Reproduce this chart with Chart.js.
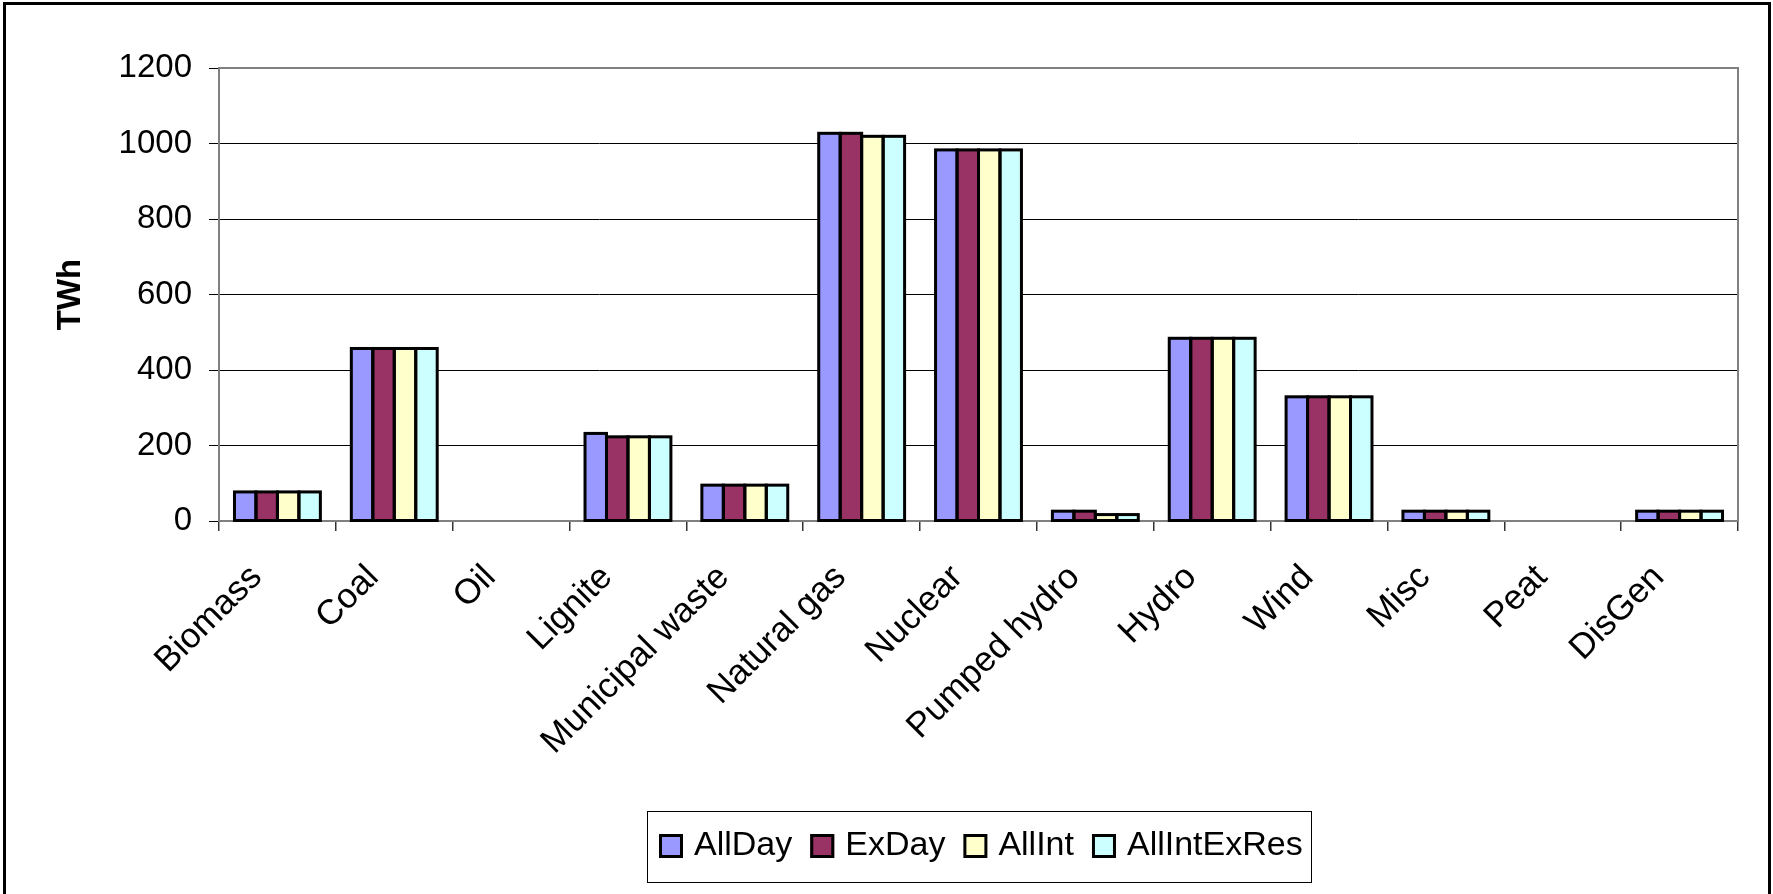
<!DOCTYPE html>
<html>
<head>
<meta charset="utf-8">
<title>Electricity generation by fuel</title>
<script src="https://cdn.jsdelivr.net/npm/chart.js@4/dist/chart.umd.min.js"></script>
<style>
  html, body { margin: 0; padding: 0; background: #fff; }
  canvas { display: block; }
</style>
</head>
<body>
<canvas id="chart" width="1773" height="894"></canvas>
<script>
// Generation per fuel type (TWh) for each scenario
const categories = ['Biomass', 'Coal', 'Oil', 'Lignite', 'Municipal waste', 'Natural gas',
  'Nuclear', 'Pumped hydro', 'Hydro', 'Wind', 'Misc', 'Peat', 'DisGen'];
const seriesNames = ['AllDay', 'ExDay', 'AllInt', 'AllIntExRes'];
const allDay      = [77, 457, 0, 232, 95, 1027, 983, 26, 484, 329, 26, 0, 26];
const exDay       = [77, 457, 0, 223, 95, 1027, 983, 26, 484, 329, 26, 0, 26];
const allInt      = [77, 457, 0, 223, 95, 1019, 983, 17, 484, 329, 26, 0, 26];
const allIntExRes = [77, 457, 0, 223, 95, 1019, 983, 17, 484, 329, 26, 0, 26];
const yTicks = [0, 200, 400, 600, 800, 1000, 1200];

const colors = ['#9999FF', '#993366', '#FFFFCC', '#CCFFFF'];
const FONT = '"Liberation Sans", Arial, Helvetica, sans-serif';

const seriesValues = [allDay, exDay, allInt, allIntExRes];
const datasets = seriesNames.map((name, i) => ({
  label: name,
  data: seriesValues[i],
  backgroundColor: colors[i],
  borderWidth: 0
}));

// Grey frame round the plot area, under the bars
const plotFrame = {
  id: 'plotFrame',
  beforeDatasetsDraw(chart) {
    const { ctx, chartArea: a } = chart;
    ctx.save();
    ctx.strokeStyle = '#808080';
    ctx.lineWidth = 2;
    ctx.strokeRect(a.left, a.top, a.right - a.left, a.bottom - a.top);
    ctx.restore();
  }
};

// Black outline stroked on the edge of every non-zero bar
const barOutline = {
  id: 'barOutline',
  afterDatasetsDraw(chart) {
    const ctx = chart.ctx;
    ctx.save();
    ctx.strokeStyle = '#000';
    ctx.lineWidth = 3;
    ctx.lineJoin = 'miter';
    chart.data.datasets.forEach((ds, di) => {
      const meta = chart.getDatasetMeta(di);
      meta.data.forEach((bar, i) => {
        if (!ds.data[i]) return;
        const { x, y, base, width } = bar.getProps(['x', 'y', 'base', 'width'], true);
        ctx.strokeRect(x - width / 2, y, width, base - y);
      });
    });
    ctx.restore();
  }
};

// Boxed legend below the axis labels, and the outer frame
const boxLegend = {
  id: 'boxLegend',
  afterDraw(chart) {
    const ctx = chart.ctx;
    ctx.save();
    ctx.strokeStyle = '#000';
    ctx.lineWidth = 1;
    ctx.strokeRect(647.5, 811.5, 664, 71);

    ctx.font = '34px ' + FONT;
    ctx.textBaseline = 'alphabetic';
    ctx.textAlign = 'left';
    let x = 659;
    chart.data.datasets.forEach(ds => {
      ctx.fillStyle = ds.backgroundColor;
      ctx.fillRect(x, 834, 24, 24);
      ctx.strokeStyle = '#000';
      ctx.lineWidth = 3;
      ctx.strokeRect(x + 1.5, 835.5, 21, 21);
      x += 24 + 11;
      ctx.fillStyle = '#000';
      ctx.fillText(ds.label, x, 855);
      x += ctx.measureText(ds.label).width + 18;
    });
    ctx.restore();

    ctx.save();
    ctx.strokeStyle = '#000';
    ctx.lineWidth = 3;
    ctx.strokeRect(4.5, 3.5, 1765, 1000);
    ctx.restore();
  }
};

new Chart(document.getElementById('chart'), {
  type: 'bar',
  data: { labels: categories, datasets },
  options: {
    responsive: false,
    animation: false,
    devicePixelRatio: 1,
    layout: { padding: { left: 40, right: 35, top: 68, bottom: 0 } },
    datasets: { bar: { categoryPercentage: 0.735, barPercentage: 1.0 } },
    plugins: {
      legend: { display: false },
      tooltip: { enabled: false }
    },
    scales: {
      x: {
        offset: true,
        grid: { offset: true, drawOnChartArea: false, drawTicks: true, tickLength: 10, color: '#333', lineWidth: 1.5 },
        border: { color: '#808080', width: 2 },
        ticks: {
          autoSkip: false, maxRotation: 45, minRotation: 45,
          color: '#000', font: { family: FONT, size: 35 }, padding: 26, labelOffset: -21
        },
        afterFit(scale) { scale.height = 373; }
      },
      y: {
        min: 0, max: 1200,
        afterBuildTicks(scale) { scale.ticks = yTicks.map(v => ({ value: v })); },
        grid: { color: '#000', lineWidth: 1, tickLength: 10 },
        border: { color: '#808080', width: 2 },
        ticks: {
          color: '#000', font: { family: FONT, size: 33 }, padding: 17,
          callback: v => String(v)
        },
        title: {
          display: true, text: 'TWh', color: '#000',
          font: { family: FONT, size: 33, weight: 'bold' },
          padding: { top: 11, bottom: 0 }
        },
        afterFit(scale) { scale.width = 179; }
      }
    }
  },
  plugins: [plotFrame, barOutline, boxLegend]
});
</script>
</body>
</html>
